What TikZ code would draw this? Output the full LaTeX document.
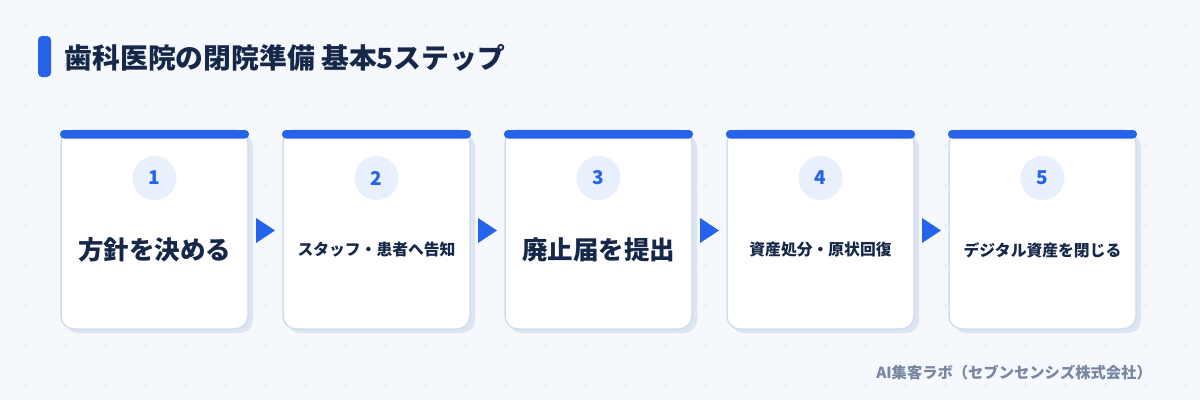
\documentclass[tikz,border=0pt]{standalone}
\usepackage{fontspec}
\setmainfont{Noto Sans CJK JP}
\definecolor{bg}{HTML}{F5F8FC}
\definecolor{gridc}{HTML}{E0E6EF}
\definecolor{navy}{HTML}{16284A}
\definecolor{blue}{HTML}{2563EB}
\definecolor{cardln}{HTML}{D2DDEC}
\definecolor{shad}{HTML}{DCE5F1}
\definecolor{circ}{HTML}{E8F0FD}
\definecolor{foot}{HTML}{7886A2}
\tikzset{
  cardbody/.style={fill=white, draw=cardln, line width=1.5pt, rounded corners=13pt},
  cardshadow/.style={fill=shad, rounded corners=13pt},
  topbar/.style={fill=blue, rounded corners=4pt},
  numcirc/.style={circle, fill=circ, minimum size=44pt, inner sep=0pt, text=blue, font=\bfseries\fontsize{19pt}{20pt}\selectfont},
  bigtxt/.style={text=navy, inner sep=0pt, font=\bfseries\fontsize{25.5pt}{27pt}\selectfont},
  smalltxt/.style={text=navy, inner sep=0pt, font=\bfseries\fontsize{15.8pt}{17pt}\selectfont},
  arrowtri/.style={fill=blue},
  gridplus/.style={draw=gridc, line width=0.7pt}
}
\begin{document}
\begin{tikzpicture}[x=1pt,y=-1pt]
\fill[bg] (0,0) rectangle (1200,400);
\useasboundingbox (0,0) rectangle (1200,400);
% grid of plus marks
\foreach \i in {0,...,29}{
  \foreach \j in {0,...,9}{
    \draw[gridplus] ({25+40*\i-2.5},{25+40*\j}) -- ({25+40*\i+2.5},{25+40*\j})
                    ({25+40*\i},{25+40*\j-2.5}) -- ({25+40*\i},{25+40*\j+2.5});
  }
}
% title
\fill[blue, rounded corners=4pt] (38,36) rectangle (51,77);
\node[anchor=west, text=navy, inner sep=0pt, font=\bfseries\fontsize{27.8pt}{29pt}\selectfont] (title) at (64.5,58) {歯科医院の閉院準備 基本5ステップ};
% cards
\foreach \k/\lab/\sty [count=\n] in {0/方針を決める/bigtxt, 1/スタッフ・患者へ告知/smalltxt, 2/廃止届を提出/bigtxt, 3/資産処分・原状回復/smalltxt, 4/デジタル資産を閉じる/smalltxt}{
  \pgfmathsetmacro{\xl}{61+222*\k}
  \fill[cardshadow] ({\xl+4},134) rectangle ({\xl+192},333);
  \draw[cardbody] (\xl,130) rectangle ({\xl+187},329);
  \fill[topbar] ({\xl-1},130) rectangle ({\xl+188},138.5);
  \node[numcirc] (c\n) at ({\xl+93.5},178) {\n};
  \node[\sty] (t\n) at ({\xl+93.5},250) {\lab};
}
% arrows
\foreach \k in {0,...,3}{
  \pgfmathsetmacro{\ax}{256+222*\k}
  \fill[arrowtri] (\ax,218) -- ({\ax+19},230.5) -- (\ax,243) -- cycle;
}
% footer
\node[anchor=east, text=foot, inner sep=0pt, font=\bfseries\fontsize{15.3pt}{16pt}\selectfont] (foot) at (1152,373) {AI集客ラボ（セブンセンシズ株式会社）};
\end{tikzpicture}
\end{document}
